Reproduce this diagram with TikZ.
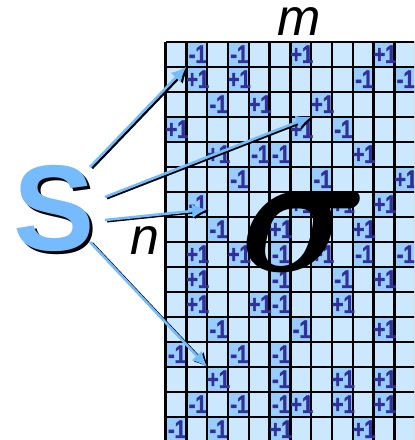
\documentclass[tikz,border=0pt]{standalone}
\usepackage{fontspec}
\usepackage{bm}
\setmainfont{Liberation Sans}
\newfontfamily\spinfont{Liberation Sans}[FakeStretch=0.8, FakeBold=1.6, BoldFont={Liberation Sans Bold}]
\usetikzlibrary{arrows.meta}
\definecolor{latticeLight}{RGB}{204,232,255}
\definecolor{latticeDark}{RGB}{153,204,255}
\definecolor{spinInk}{RGB}{48,48,150}
\definecolor{sumBlue}{RGB}{119,187,255}

% column/row/value of every marked cell
\newcommand{\latticespins}{%
  2/1/-1, 4/1/-1, 7/1/+1, 11/1/+1,
  2/2/+1, 4/2/+1, 10/2/-1, 12/2/-1,
  3/3/-1, 5/3/+1, 8/3/+1,
  1/4/+1, 7/4/+1, 9/4/-1,
  3/5/+1, 5/5/-1, 6/5/-1, 10/5/+1,
  4/6/-1, 8/6/-1, 12/6/+1,
  2/7/-1, 7/7/+1, 9/7/+1, 11/7/+1,
  3/8/-1, 6/8/+1, 10/8/+1,
  2/9/+1, 4/9/+1, 6/9/-1, 8/9/+1, 10/9/-1, 12/9/-1,
  2/10/+1, 6/10/-1, 9/10/-1, 11/10/+1,
  2/11/+1, 5/11/+1, 6/11/-1, 9/11/+1,
  3/12/-1, 7/12/-1, 11/12/+1,
  1/13/-1, 4/13/-1, 6/13/-1,
  3/14/+1, 6/14/-1, 9/14/+1, 11/14/+1,
  2/15/-1, 4/15/-1, 6/15/-1, 7/15/+1, 9/15/+1, 11/15/+1,
  1/16/-1, 3/16/-1, 6/16/+1, 10/16/+1}

\begin{document}
\begin{tikzpicture}[
  x=0.5pt, y=-0.5pt,
  lattice/.style={draw=black, line width=1.2pt},
  spincell/.style={fill=latticeDark},
  spin/.style={font=\spinfont\bfseries\fontsize{12.5}{12.5}\selectfont, text=spinInk, inner sep=0pt},
  sigmaglyph/.style={font=\fontsize{10}{10}\selectfont, scale=9, transform shape, inner sep=0pt},
  sumletter/.style={font=\bfseries\fontsize{61}{61}\selectfont, text=sumBlue, inner sep=0pt},
  sumshadow/.style={sumletter, text=black},
  axislabel/.style={font=\itshape\fontsize{26}{26}\selectfont, inner sep=0pt},
  spoke/.style={-{Latex[length=7.5pt,width=7pt]}, line width=1.3pt, draw=sumBlue},
  spokeshadow/.style={spoke, draw=black, transform canvas={xshift=1pt, yshift=-0.6pt}}
]
\useasboundingbox (0,0) rectangle (414,440);
\clip (0,0) rectangle (414,440);

% - 1. Lattice -
\fill[latticeLight] (165.5,41.7) rectangle (420,445);
\foreach \c/\r/\v in \latticespins
  \fill[spincell] ({165.5+20.8*(\c-1)},{41.7+25*(\r-1)}) rectangle ++(20.8,25);
\foreach \i in {0,...,12}
  \draw[lattice] ({165.5+20.8*\i},41.7) -- ({165.5+20.8*\i},445);
\foreach \j in {0,...,16}
  \draw[lattice] (165.5,{41.7+25*\j}) -- (420,{41.7+25*\j});
\foreach \c/\r/\v in \latticespins
  \node[spin] (spin-\c-\r) at ({166.5+20.8*(\c-0.5)},{41.7+25*(\r-0.5)}) {\v};

% - 2. Labels -
\node[sigmaglyph] (sigma) at (305,231) {$\bm{\sigma}$};
\node[axislabel] (mlabel) at (299,22) {m};
\node[axislabel] (nlabel) at (145,241) {n};

% - 3. Sum and spokes -
\node[sumshadow] (Sshade) at (57,211) {S};
\node[sumletter] (S) at (54,208) {S};

\coordinate (s1) at (90,167);
\coordinate (s2) at (105,197);
\coordinate (s3) at (105,220);
\coordinate (s4) at (90,242);
\coordinate (t1) at (186.3,66.7);
\coordinate (t2) at (311.1,116.7);
\coordinate (t3) at (207.1,209.5);
\coordinate (t4) at (207.1,366.7);

\draw[spokeshadow] (s1) -- (t1);
\draw[spokeshadow] (s2) -- (t2);
\draw[spokeshadow] (s3) -- (t3);
\draw[spokeshadow] (s4) -- (t4);
\draw[spoke] (s1) -- (t1);
\draw[spoke] (s2) -- (t2);
\draw[spoke] (s3) -- (t3);
\draw[spoke] (s4) -- (t4);

\end{tikzpicture}
\end{document}
